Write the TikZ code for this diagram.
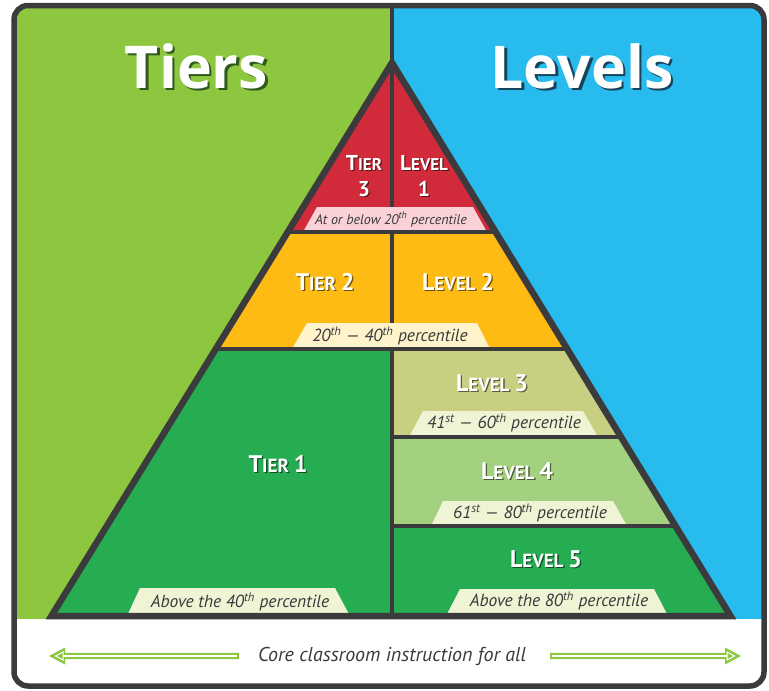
\documentclass[tikz,border=0pt]{standalone}
\usepackage{fontspec}
\setmainfont{PT Sans}
\newfontfamily\titlefont{Open Sans}
\definecolor{framec}{HTML}{3B3B3D}
\definecolor{leftgreen}{HTML}{8DC63F}
\definecolor{rightblue}{HTML}{27BBEE}
\definecolor{tred}{HTML}{D12A3A}
\definecolor{tyellow}{HTML}{FDBB13}
\definecolor{tgreen}{HTML}{26AD52}
\definecolor{lkhaki}{HTML}{C9CF80}
\definecolor{llight}{HTML}{A4D17F}
\definecolor{bpink}{HTML}{F9D1D6}
\definecolor{bcream}{HTML}{FEF3CB}
\definecolor{bpale}{HTML}{EEF4D4}
\definecolor{ptext}{HTML}{3A3A3C}
\definecolor{shgreen}{HTML}{2E5A1C}
\definecolor{shblue}{HTML}{16425C}
\definecolor{arrowgreen}{HTML}{8DC63F}
\newcommand\BL[1]{{\fontsize{24}{26}\selectfont #1}}
\newcommand\BLs[1]{{\fontsize{21.5}{26}\selectfont #1}}
\newcommand\lab[3]{\node[lblsh] (#1s) at ([shift={(1.3,1.3)}]#2) {#3};\node[lbl] (#1) at (#2) {#3};}
\newcommand\labs[3]{\node[lblsh,smalllbl] (#1s) at ([shift={(1.3,1.3)}]#2) {#3};\node[lbl,smalllbl] (#1) at (#2) {#3};}
\tikzset{
  lbl/.style={font=\bfseries\fontsize{19}{26}\selectfont, text=white, inner sep=0pt, align=center},
  lblsh/.style={lbl, text=black, opacity=.55},
  smalllbl/.style={font=\bfseries\fontsize{17}{26}\selectfont},
  pct/.style={font=\itshape\fontsize{17.5}{20}\selectfont, text=ptext, inner sep=0pt},
  ttl/.style={font=\titlefont\bfseries\fontsize{59}{66}\selectfont, text=white, anchor=base, inner sep=0pt},
  divline/.style={framec, line width=4pt},
}
\begin{document}
\begin{tikzpicture}[x=1pt,y=-1pt]
\useasboundingbox (0,0) rectangle (769,691);
\coordinate (A) at (392,62.7);
\coordinate (L) at (51.4,616);
\coordinate (R) at (730.6,616);
% backgrounds
\begin{scope}
\clip[rounded corners=14pt] (14,5.5) rectangle (764,686);
\fill[leftgreen] (0,0) rectangle (392,619);
\fill[rightblue] (392,0) rectangle (769,619);
\fill[white] (0,619) rectangle (769,691);
\end{scope}
\draw[divline] (392,5.5) -- (A);
% pyramid
\begin{scope}
\clip (A) -- (L) -- (R) -- cycle;
\fill[tred] (0,0) rectangle (769,232);
\fill[tyellow] (0,232) rectangle (769,349);
\fill[tgreen] (0,349) rectangle (392,616);
\fill[lkhaki] (392,349) rectangle (769,437);
\fill[llight] (392,437) rectangle (769,526);
\fill[tgreen] (392,526) rectangle (769,616);
\draw[divline] (392,0) -- (392,207);
\draw[divline] (392,232) -- (392,323);
\draw[divline] (392,349) -- (392,616);
\fill[bpink] (317,207) -- (473,207) -- (487,232) -- (303,232) -- cycle;
\fill[bcream] (307,323) -- (477,323) -- (490,349) -- (292,349) -- cycle;
\fill[bpale] (140,588) -- (335,588) -- (350,616) -- (127,616) -- cycle;
\fill[bpale] (423,411) -- (583,411) -- (598,437) -- (409,437) -- cycle;
\fill[bpale] (443,501) -- (613,501) -- (627,526) -- (431,526) -- cycle;
\fill[bpale] (460,589) -- (654,589) -- (668,616) -- (446,616) -- cycle;
\draw[divline] (0,232) -- (769,232);
\draw[divline] (0,349) -- (769,349);
\draw[divline] (392,437) -- (769,437);
\draw[divline] (392,526) -- (769,526);
\end{scope}
\draw[framec, line width=6.5pt, line join=miter] (A) -- (L) -- (R) -- cycle;
% frame
\draw[framec, line width=5.5pt, rounded corners=14pt] (14,5.5) rectangle (764,686);
% titles
\node[ttl, text=shgreen] (tierss) at (199,90.5) {Tiers};
\node[ttl] (tiers) at (196.5,88) {Tiers};
\node[ttl, text=shblue] (levelss) at (584.5,90.5) {Levels};
\node[ttl] (levels) at (582,88) {Levels};
% tier / level labels
\labs{t3}{364,176}{\BLs{T}IER\\\BLs{3}}
\labs{l1}{424,176}{\BLs{L}EVEL\\\BLs{1}}
\lab{t2}{325,282}{\BL{T}IER \BL{2}}
\lab{l2}{458,282}{\BL{L}EVEL \BL{2}}
\lab{t1}{278,464}{\BL{T}IER \BL{1}}
\lab{l3}{492,383}{\BL{L}EVEL \BL{3}}
\lab{l4}{517,471}{\BL{L}EVEL \BL{4}}
\lab{l5}{546,559}{\BL{L}EVEL \BL{5}}
% percentile labels
\node[pct, font=\itshape\fontsize{14}{16}\selectfont] (p3) at (391,219.5) {At or below 20\textsuperscript{th} percentile};
\node[pct] (p2) at (390,336) {20\textsuperscript{th} — 40\textsuperscript{th} percentile};
\node[pct] (p1) at (240,602) {Above the 40\textsuperscript{th} percentile};
\node[pct] (q3) at (504,423) {41\textsuperscript{st} — 60\textsuperscript{th} percentile};
\node[pct] (q4) at (530,513) {61\textsuperscript{st} — 80\textsuperscript{th} percentile};
\node[pct] (q5) at (559,601) {Above the 80\textsuperscript{th} percentile};
% bottom
\node[pct, font=\itshape\fontsize{20}{22}\selectfont] (core) at (392,656) {Core classroom instruction for all};
\fill[arrowgreen] (49,656) -- (65,647.5) -- (65,652.8) -- (239,652.8) -- (239,659.2) -- (65,659.2) -- (65,664.5) -- cycle;
\draw[white, line width=1.3pt] (237,656) -- (63,656);
\draw[white, line width=1pt, line join=miter] (55.5,656) -- (63,652) -- (63,660) -- cycle;
\fill[arrowgreen] (741,656) -- (725,647.5) -- (725,652.8) -- (550,652.8) -- (550,659.2) -- (725,659.2) -- (725,664.5) -- cycle;
\draw[white, line width=1.3pt] (552,656) -- (727,656);
\draw[white, line width=1pt, line join=miter] (734.5,656) -- (727,652) -- (727,660) -- cycle;
\end{tikzpicture}
\end{document}
